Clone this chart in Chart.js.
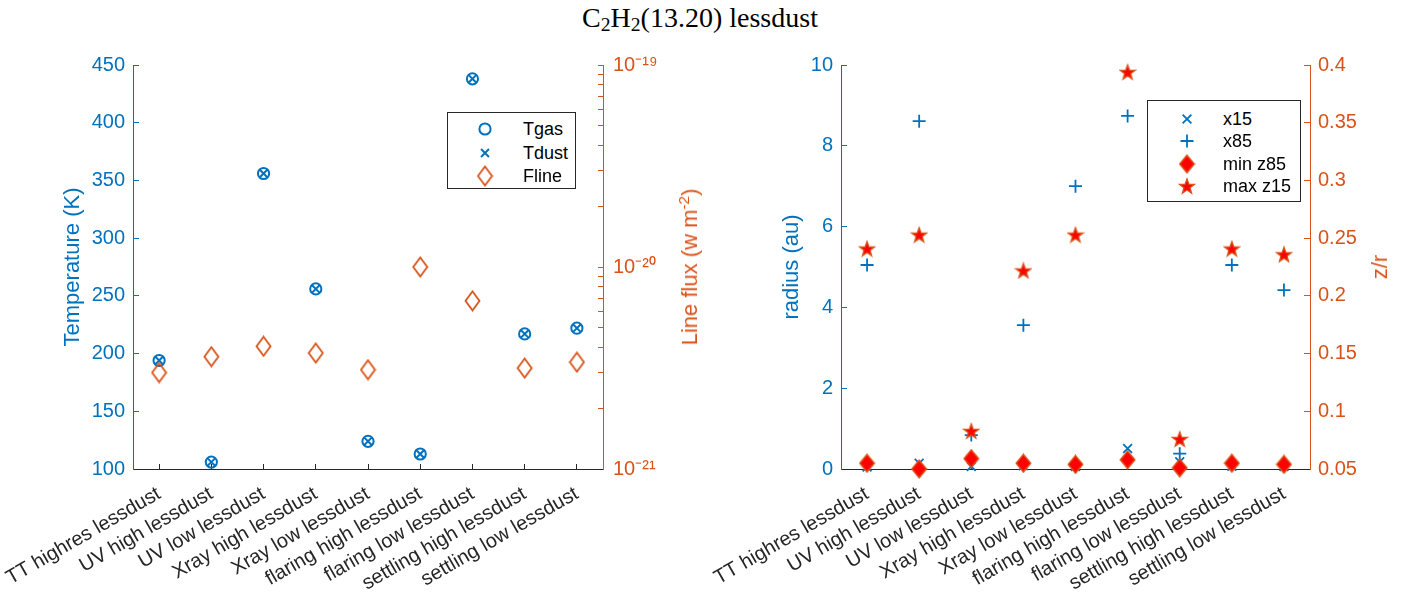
<!DOCTYPE html>
<html>
<head>
<meta charset="utf-8">
<script src="https://cdn.jsdelivr.net/npm/chart.js@4/dist/chart.umd.min.js"></script>
<style>
  html, body { margin: 0; padding: 0; background: #fff; }
  body { width: 1413px; height: 602px; position: relative; overflow: hidden;
         font-family: "Liberation Sans", Arial, Helvetica, sans-serif; color: #262626; }
  #title { position: absolute; left: 0; top: 4px; width: 1400px; text-align: center;
           font-family: "Liberation Serif", "Times New Roman", serif; font-size: 28px; line-height: 1; color: #000; }
  #title sub { font-size: 0.7em; vertical-align: -0.22em; line-height: 0; }
  .pane { position: absolute; top: 0; }
  .ytitle { position: absolute; white-space: nowrap; font-size: 22px; line-height: 1;
            transform: translate(-50%, -50%) rotate(-90deg); }
  .ytitle sup { font-size: 0.7em; vertical-align: 0.55em; line-height: 0; }
  .legend { position: absolute; background: #fff; border: 1px solid #262626; box-sizing: border-box; }
  .legend canvas { position: absolute; }
  .legend span { position: absolute; white-space: nowrap; font-size: 18px; line-height: 1; transform: translateY(-50%); color: #000; }
</style>
</head>
<body>
<div id="title">C<sub>2</sub>H<sub>2</sub>(13.20) lessdust</div>

<canvas id="tempChart" class="pane" width="706" height="602" style="left:0"></canvas>
<canvas id="radiusChart" class="pane" width="707" height="602" style="left:706px"></canvas>

<div class="ytitle" style="left:690px; top:267px; color:#D95319">Line flux (w m<sup>-2</sup>)</div>
<div class="ytitle" style="left:1380px; top:267px; color:#D95319">z/r</div>

<div id="legendTemp" class="legend" style="left:447px; top:112px; width:129px; height:77px"></div>
<div id="legendRadius" class="legend" style="left:1147px; top:100px; width:154px; height:102px"></div>

<script>
// ---- data ----
const categories = [
  'TT highres lessdust', 'UV high lessdust', 'UV low lessdust',
  'Xray high lessdust', 'Xray low lessdust', 'flaring high lessdust',
  'flaring low lessdust', 'settling high lessdust', 'settling low lessdust'
];
const tgas  = [194, 106, 356, 256, 124, 113, 438, 217, 222];
const tdust = [194, 106, 356, 256, 124, 113, 438, 217, 222];
const fline = [3.0e-21, 3.6e-21, 4.05e-21, 3.75e-21, 3.1e-21, 1.0e-20, 6.8e-21, 3.16e-21, 3.38e-21];

const x15    = [0.05, 0.14, 0.06, 0.08, 0.06, 0.51, 0.18, 0.07, 0.06];
const x85    = [5.05, 8.61, 0.84, 3.56, 7.0, 8.74, 0.38, 5.05, 4.43];
const minZ85 = [0.055, 0.050, 0.059, 0.055, 0.054, 0.058, 0.051, 0.055, 0.054];
const maxZ15 = [0.241, 0.253, 0.083, 0.222, 0.253, 0.394, 0.076, 0.241, 0.236];

const tempTicks   = { min: 100, max: 450, step: 50 };
const fluxDecades = [1e-21, 1e-20, 1e-19];
const radiusTicks = { min: 0, max: 10, step: 2 };
const zrTicks     = { min: 0.05, max: 0.4, step: 0.05 };

// ---- styling ----
const BLUE = '#0072BD', ORANGE = '#D95319', RED = '#FF0000', INK = '#262626';
const FONT = '"Liberation Sans", Arial, Helvetica, sans-serif';

function markerCanvas(w, h, draw) {
  const c = document.createElement('canvas');
  c.width = w; c.height = h;
  draw(c.getContext('2d'), w, h);
  return c;
}
function diamondPath(ctx, w, h, m) {
  ctx.beginPath();
  ctx.moveTo(w / 2, m); ctx.lineTo(w - m, h / 2);
  ctx.lineTo(w / 2, h - m); ctx.lineTo(m, h / 2);
  ctx.closePath();
}
const diamondOpen = markerCanvas(17, 22, (ctx, w, h) => {
  diamondPath(ctx, w, h, 1.5);
  ctx.strokeStyle = ORANGE; ctx.lineWidth = 1.8; ctx.stroke();
});
const diamondFilled = markerCanvas(17, 20, (ctx, w, h) => {
  diamondPath(ctx, w, h, 1.2);
  ctx.fillStyle = RED; ctx.fill();
  ctx.strokeStyle = ORANGE; ctx.lineWidth = 1.4; ctx.stroke();
});
const starFilled = markerCanvas(18, 18, (ctx, w, h) => {
  const cx = w / 2, cy = h / 2 + 0.8, R = 7.8, r = 3.2;
  ctx.beginPath();
  for (let i = 0; i < 10; i++) {
    const a = -Math.PI / 2 + i * Math.PI / 5;
    const rr = i % 2 ? r : R;
    const px = cx + rr * Math.cos(a), py = cy + rr * Math.sin(a);
    if (i === 0) ctx.moveTo(px, py); else ctx.lineTo(px, py);
  }
  ctx.closePath();
  ctx.fillStyle = RED; ctx.fill();
  ctx.strokeStyle = ORANGE; ctx.lineWidth = 1.3; ctx.stroke();
});

function markerSet(style, color, radius, width, fill) {
  return {
    showLine: false, clip: false,
    pointStyle: style, pointRadius: radius, pointHoverRadius: radius,
    pointBorderWidth: width, pointHoverBorderWidth: width,
    borderColor: color, pointBorderColor: color,
    backgroundColor: fill || 'rgba(0,0,0,0)', pointBackgroundColor: fill || 'rgba(0,0,0,0)'
  };
}

const SUP = { '-': '\u207B', '0': '\u2070', '1': '\u00B9', '2': '\u00B2', '3': '\u00B3', '4': '\u2074',
              '5': '\u2075', '6': '\u2076', '7': '\u2077', '8': '\u2078', '9': '\u2079' };
const sup = s => String(s).split('').map(ch => SUP[ch] || ch).join('');

function xAxis() {
  return {
    type: 'category', offset: true,
    grid: { display: true, drawOnChartArea: false, offset: false, drawTicks: true,
            tickLength: -5, tickColor: INK, tickWidth: 1 },
    border: { display: true, color: INK, width: 1 },
    ticks: { color: INK, font: { family: FONT, size: 20 }, minRotation: 30, maxRotation: 30,
             autoSkip: false, padding: 18 },
    afterFit: s => { s.height = 133; s.paddingLeft = 0; s.paddingRight = 0; }
  };
}
function yLinear(pos, color, t, width, fmt, title, titlePad) {
  return {
    type: 'linear', position: pos, min: t.min, max: t.max,
    grid: { display: true, drawOnChartArea: false, drawTicks: true, tickLength: -6, tickColor: color },
    border: { display: true, color: color, width: 1 },
    ticks: { stepSize: t.step, color: color, font: { family: FONT, size: 20 }, padding: 14,
             autoSkip: false, callback: fmt },
    title: title ? { display: true, text: title, color: color, font: { family: FONT, size: 22 },
                     padding: { top: titlePad, bottom: 0 } } : { display: false },
    afterFit: s => { s.width = width; }
  };
}

const common = {
  responsive: false, animation: false, events: [],
  layout: { padding: { top: 65, left: 0, right: 0, bottom: 0 } },
  plugins: { legend: { display: false }, tooltip: { enabled: false }, title: { display: false } }
};

// ---- left panel: temperatures and line flux ----
const tempChart = new Chart(document.getElementById('tempChart'), {
  type: 'line',
  data: {
    labels: categories,
    datasets: [
      Object.assign({ label: 'Tgas', data: tgas, yAxisID: 'yT', order: 2 }, markerSet('circle', BLUE, 5.6, 2)),
      Object.assign({ label: 'Tdust', data: tdust, yAxisID: 'yT', order: 1 }, markerSet('crossRot', BLUE, 5.6, 2)),
      Object.assign({ label: 'Fline', data: fline, yAxisID: 'yF', order: 0 }, markerSet(diamondOpen, ORANGE, 8, 1.8))
    ]
  },
  options: Object.assign({}, common, {
    scales: {
      x: xAxis(),
      yT: yLinear('left', BLUE, tempTicks, 133, v => String(v), 'Temperature (K)', 60),
      yF: {
        type: 'logarithmic', position: 'right', min: fluxDecades[0], max: fluxDecades[fluxDecades.length - 1],
        grid: { display: true, drawOnChartArea: false, drawTicks: true, tickLength: -5, tickColor: ORANGE },
        border: { display: true, color: ORANGE, width: 1 },
        ticks: {
          color: ORANGE, font: { family: FONT, size: 20 }, padding: 15, autoSkip: false,
          callback: v => {
            const hit = fluxDecades.find(d => Math.abs(v / d - 1) < 1e-6);
            return hit ? '10' + sup(Math.round(Math.log10(hit))) : '';
          }
        },
        afterBuildTicks: s => {
          // keep the 1..9 x 10^n ladder only
          s.ticks = s.ticks.filter(t => {
            const e = Math.floor(Math.log10(t.value) + 1e-9);
            const m = t.value / Math.pow(10, e);
            return Math.abs(m - Math.round(m)) < 1e-6;
          });
        },
        afterFit: s => { s.width = 103; }
      }
    }
  })
});

// ---- right panel: radii and z/r ----
const radiusChart = new Chart(document.getElementById('radiusChart'), {
  type: 'line',
  data: {
    labels: categories,
    datasets: [
      Object.assign({ label: 'x15', data: x15, yAxisID: 'yR', order: 4 }, markerSet('crossRot', BLUE, 6.2, 1.8)),
      Object.assign({ label: 'x85', data: x85, yAxisID: 'yR', order: 3 }, markerSet('cross', BLUE, 6.5, 1.8)),
      Object.assign({ label: 'min z85', data: minZ85, yAxisID: 'yZ', order: 2 }, markerSet(diamondFilled, RED, 8, 1.4, RED)),
      Object.assign({ label: 'max z15', data: maxZ15, yAxisID: 'yZ', order: 1 }, markerSet(starFilled, RED, 8, 1.3, RED))
    ]
  },
  options: Object.assign({}, common, {
    scales: {
      x: xAxis(),
      yR: yLinear('left', BLUE, radiusTicks, 135, v => String(v), 'radius (au)', 73),
      yZ: yLinear('right', ORANGE, zrTicks, 103, v => String(+v.toFixed(2)), null, 0)
    }
  })
});

// ---- legends built from the chart datasets ----
function drawMarker(ctx, ds, x, y) {
  ctx.strokeStyle = ds.pointBorderColor;
  ctx.fillStyle = ds.pointBackgroundColor;
  ctx.lineWidth = ds.pointBorderWidth;
  const st = ds.pointStyle;
  if (typeof st !== 'string') { ctx.drawImage(st, x - st.width / 2, y - st.height / 2); return; }
  Chart.helpers.drawPoint(ctx, { pointStyle: st, radius: ds.pointRadius, borderWidth: ds.pointBorderWidth, rotation: 0 }, x, y);
}
function buildLegend(el, chart, rowsY, markX, textX) {
  chart.data.datasets.forEach((ds, i) => {
    const cv = document.createElement('canvas');
    cv.width = 26; cv.height = 24;
    cv.style.left = (markX - 13) + 'px';
    cv.style.top = (rowsY[i] - 12) + 'px';
    drawMarker(cv.getContext('2d'), ds, 13, 12);
    el.appendChild(cv);
    const sp = document.createElement('span');
    sp.textContent = ds.label;
    sp.style.left = textX + 'px';
    sp.style.top = rowsY[i] + 'px';
    el.appendChild(sp);
  });
}
buildLegend(document.getElementById('legendTemp'), tempChart, [16, 40, 63], 37, 75);
buildLegend(document.getElementById('legendRadius'), radiusChart, [18, 40, 63, 85], 39, 75);
</script>
</body>
</html>
